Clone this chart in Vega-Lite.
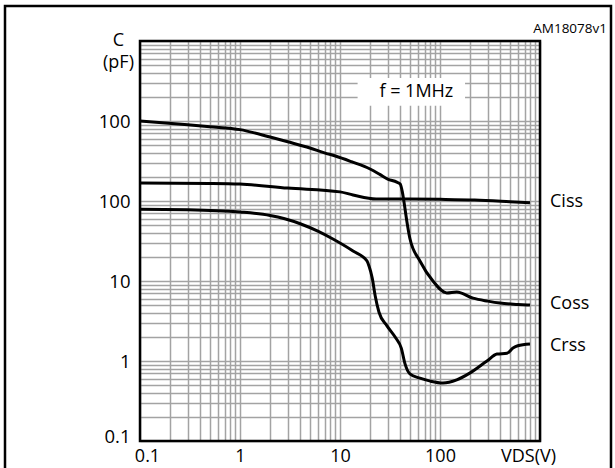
{
  "$schema": "https://vega.github.io/schema/vega-lite/v6.json",
  "width": 400,
  "height": 400,
  "autosize": {"type": "none"},
  "padding": {"left": 140, "top": 41, "right": 75, "bottom": 27},
  "background": "white",
  "config": {
    "view": {"stroke": null},
    "font": "Open Sans",
    "text": {"font": "Open Sans"}
  },
  "datasets": {
    "curves": [
      {"V": 0.1, "C": 1000, "s": "Coss"},
      {"V": 0.3, "C": 900, "s": "Coss"},
      {"V": 0.5, "C": 850, "s": "Coss"},
      {"V": 1, "C": 780, "s": "Coss"},
      {"V": 2, "C": 630, "s": "Coss"},
      {"V": 3, "C": 550, "s": "Coss"},
      {"V": 5, "C": 460, "s": "Coss"},
      {"V": 7, "C": 400, "s": "Coss"},
      {"V": 9, "C": 365, "s": "Coss"},
      {"V": 13, "C": 310, "s": "Coss"},
      {"V": 20, "C": 251, "s": "Coss"},
      {"V": 25, "C": 215, "s": "Coss"},
      {"V": 30, "C": 188, "s": "Coss"},
      {"V": 37, "C": 172, "s": "Coss"},
      {"V": 40, "C": 163, "s": "Coss"},
      {"V": 42, "C": 130, "s": "Coss"},
      {"V": 43.5, "C": 100, "s": "Coss"},
      {"V": 46.6, "C": 56, "s": "Coss"},
      {"V": 50, "C": 34, "s": "Coss"},
      {"V": 63, "C": 17.8, "s": "Coss"},
      {"V": 85, "C": 10, "s": "Coss"},
      {"V": 117, "C": 7.1, "s": "Coss"},
      {"V": 147, "C": 7.3, "s": "Coss"},
      {"V": 214, "C": 6.1, "s": "Coss"},
      {"V": 300, "C": 5.6, "s": "Coss"},
      {"V": 398, "C": 5.3, "s": "Coss"},
      {"V": 600, "C": 5.1, "s": "Coss"},
      {"V": 794, "C": 5.0, "s": "Coss"},
      {"V": 0.1, "C": 168, "s": "Ciss"},
      {"V": 0.5, "C": 166, "s": "Ciss"},
      {"V": 1, "C": 163, "s": "Ciss"},
      {"V": 3, "C": 145, "s": "Ciss"},
      {"V": 10, "C": 130, "s": "Ciss"},
      {"V": 13.5, "C": 119, "s": "Ciss"},
      {"V": 23, "C": 106, "s": "Ciss"},
      {"V": 40, "C": 106, "s": "Ciss"},
      {"V": 100, "C": 105, "s": "Ciss"},
      {"V": 222, "C": 103, "s": "Ciss"},
      {"V": 500, "C": 98, "s": "Ciss"},
      {"V": 794, "C": 95, "s": "Ciss"},
      {"V": 0.1, "C": 79, "s": "Crss"},
      {"V": 0.3, "C": 78, "s": "Crss"},
      {"V": 1, "C": 73, "s": "Crss"},
      {"V": 2, "C": 66, "s": "Crss"},
      {"V": 2.8, "C": 60, "s": "Crss"},
      {"V": 4, "C": 52, "s": "Crss"},
      {"V": 6, "C": 42, "s": "Crss"},
      {"V": 8.5, "C": 33.5, "s": "Crss"},
      {"V": 13.5, "C": 23.7, "s": "Crss"},
      {"V": 18.6, "C": 17.8, "s": "Crss"},
      {"V": 19.5, "C": 15.4, "s": "Crss"},
      {"V": 21, "C": 10.9, "s": "Crss"},
      {"V": 22.5, "C": 6.5, "s": "Crss"},
      {"V": 24.5, "C": 4.1, "s": "Crss"},
      {"V": 29.5, "C": 2.75, "s": "Crss"},
      {"V": 36, "C": 1.95, "s": "Crss"},
      {"V": 41, "C": 1.45, "s": "Crss"},
      {"V": 44.7, "C": 0.92, "s": "Crss"},
      {"V": 50, "C": 0.69, "s": "Crss"},
      {"V": 63, "C": 0.61, "s": "Crss"},
      {"V": 80, "C": 0.56, "s": "Crss"},
      {"V": 107, "C": 0.53, "s": "Crss"},
      {"V": 147, "C": 0.58, "s": "Crss"},
      {"V": 200, "C": 0.71, "s": "Crss"},
      {"V": 295, "C": 1.0, "s": "Crss"},
      {"V": 372, "C": 1.22, "s": "Crss"},
      {"V": 468, "C": 1.25, "s": "Crss"},
      {"V": 537, "C": 1.45, "s": "Crss"},
      {"V": 600, "C": 1.55, "s": "Crss"},
      {"V": 794, "C": 1.63, "s": "Crss"}
    ],
    "labels": [
      {"V": 1000, "C": 96, "s": "Ciss"},
      {"V": 1000, "C": 5.16, "s": "Coss"},
      {"V": 1000, "C": 1.54, "s": "Crss"}
    ],
    "one": [{"k": 1}]
  },
  "layer": [
    {
      "data": {"name": "curves"},
      "mark": {"type": "line", "color": "black", "strokeWidth": 3, "interpolate": "monotone"},
      "encoding": {
        "x": {
          "field": "V",
          "type": "quantitative",
          "scale": {"type": "log", "domain": [0.1, 1000], "nice": false},
          "axis": {
            "title": null,
            "values": [0.1,0.2,0.3,0.4,0.5,0.6,0.7,0.8,0.9,1,2,3,4,5,6,7,8,9,10,20,30,40,50,60,70,80,90,100,200,300,400,500,600,700,800,900,1000],
            "labelExpr": "datum.value == 0.1 ? '0.1' : datum.value == 1 ? '1' : datum.value == 10 ? '10' : datum.value == 100 ? '100' : datum.value == 1000 ? 'VDS(V)' : ''",
            "grid": true,
            "gridColor": "#a3a3a3",
            "gridWidth": 1.5,
            "gridOpacity": 1,
            "domain": false,
            "ticks": false,
            "labelFlush": false,
            "labelOverlap": false,
            "labelBound": false,
            "labelPadding": 6,
            "labelFont": "Open Sans",
            "labelFontSize": 18,
            "labelColor": "black",
            "labelAlign": "center",
            "labelOffset": {"condition": [{"test": "datum.value == 0.1", "value": 7}, {"test": "datum.value == 1000", "value": -12}], "value": 0}
          }
        },
        "y": {
          "field": "C",
          "type": "quantitative",
          "scale": {"type": "log", "domain": [0.1, 10000], "nice": false},
          "axis": {
            "title": ["C", "(pF)"],
            "titleAngle": 0,
            "titleAlign": "center",
            "titleBaseline": "alphabetic",
            "titleX": -22,
            "titleY": 4,
            "titleLineHeight": 22,
            "titleFont": "Open Sans",
            "titleFontSize": 18,
            "titleFontWeight": "normal",
            "titleColor": "black",
            "values": [0.1,0.2,0.3,0.4,0.5,0.6,0.7,0.8,0.9,1,2,3,4,5,6,7,8,9,10,20,30,40,50,60,70,80,90,100,200,300,400,500,600,700,800,900,1000,2000,3000,4000,5000,6000,7000,8000,9000,10000],
            "labelExpr": "datum.value == 0.1 ? '0.1' : datum.value == 1 ? '1' : datum.value == 10 ? '10' : datum.value == 100 ? '100' : datum.value == 1000 ? '100' : ''",
            "grid": true,
            "gridColor": "#a3a3a3",
            "gridWidth": 1.5,
            "gridOpacity": 1,
            "domain": false,
            "ticks": false,
            "labelFlush": false,
            "labelOverlap": false,
            "labelBound": false,
            "labelPadding": 10,
            "labelFont": "Open Sans",
            "labelFontSize": 18.5,
            "labelColor": "black",
            "labelBaseline": "middle",
            "labelOffset": {"condition": {"test": "datum.value == 0.1", "value": -5}, "value": 0}
          }
        },
        "detail": {"field": "s"}
      }
    },
    {
      "data": {"name": "one"},
      "mark": {"type": "rect", "fill": "white", "stroke": null},
      "encoding": {
        "x": {"datum": 15, "type": "quantitative"},
        "x2": {"datum": 178},
        "y": {"datum": 1550, "type": "quantitative"},
        "y2": {"datum": 3450}
      }
    },
    {
      "data": {"name": "one"},
      "mark": {"type": "text", "font": "Open Sans", "fontSize": 18, "color": "black", "align": "center", "baseline": "middle"},
      "encoding": {
        "x": {"datum": 58, "type": "quantitative"},
        "y": {"datum": 2300, "type": "quantitative"},
        "text": {"value": "f = 1MHz"}
      }
    },
    {
      "data": {"name": "one"},
      "mark": {"type": "text", "font": "Open Sans", "fontSize": 13.5, "color": "black", "align": "right", "baseline": "alphabetic", "clip": false},
      "encoding": {
        "x": {"datum": 4677, "type": "quantitative"},
        "y": {"datum": 12589, "type": "quantitative"},
        "text": {"value": "AM18078v1"}
      }
    },
    {
      "data": {"name": "one"},
      "mark": {"type": "rect", "fill": null, "stroke": "black", "strokeWidth": 2.5},
      "encoding": {
        "x": {"datum": 0.1, "type": "quantitative"},
        "x2": {"datum": 1000},
        "y": {"datum": 0.1, "type": "quantitative"},
        "y2": {"datum": 10000}
      }
    },
    {
      "data": {"name": "one"},
      "mark": {"type": "rect", "fill": null, "stroke": "black", "strokeWidth": 2.5, "clip": false},
      "encoding": {
        "x": {"datum": 0.004467, "type": "quantitative"},
        "x2": {"datum": 5129},
        "y": {"datum": 0.0422, "type": "quantitative"},
        "y2": {"datum": 27384}
      }
    },
    {
      "data": {"name": "labels"},
      "mark": {"type": "text", "font": "Open Sans", "fontSize": 18, "color": "black", "align": "left", "baseline": "middle", "dx": 10},
      "encoding": {
        "x": {"field": "V", "type": "quantitative"},
        "y": {"field": "C", "type": "quantitative"},
        "text": {"field": "s"}
      }
    }
  ]
}
